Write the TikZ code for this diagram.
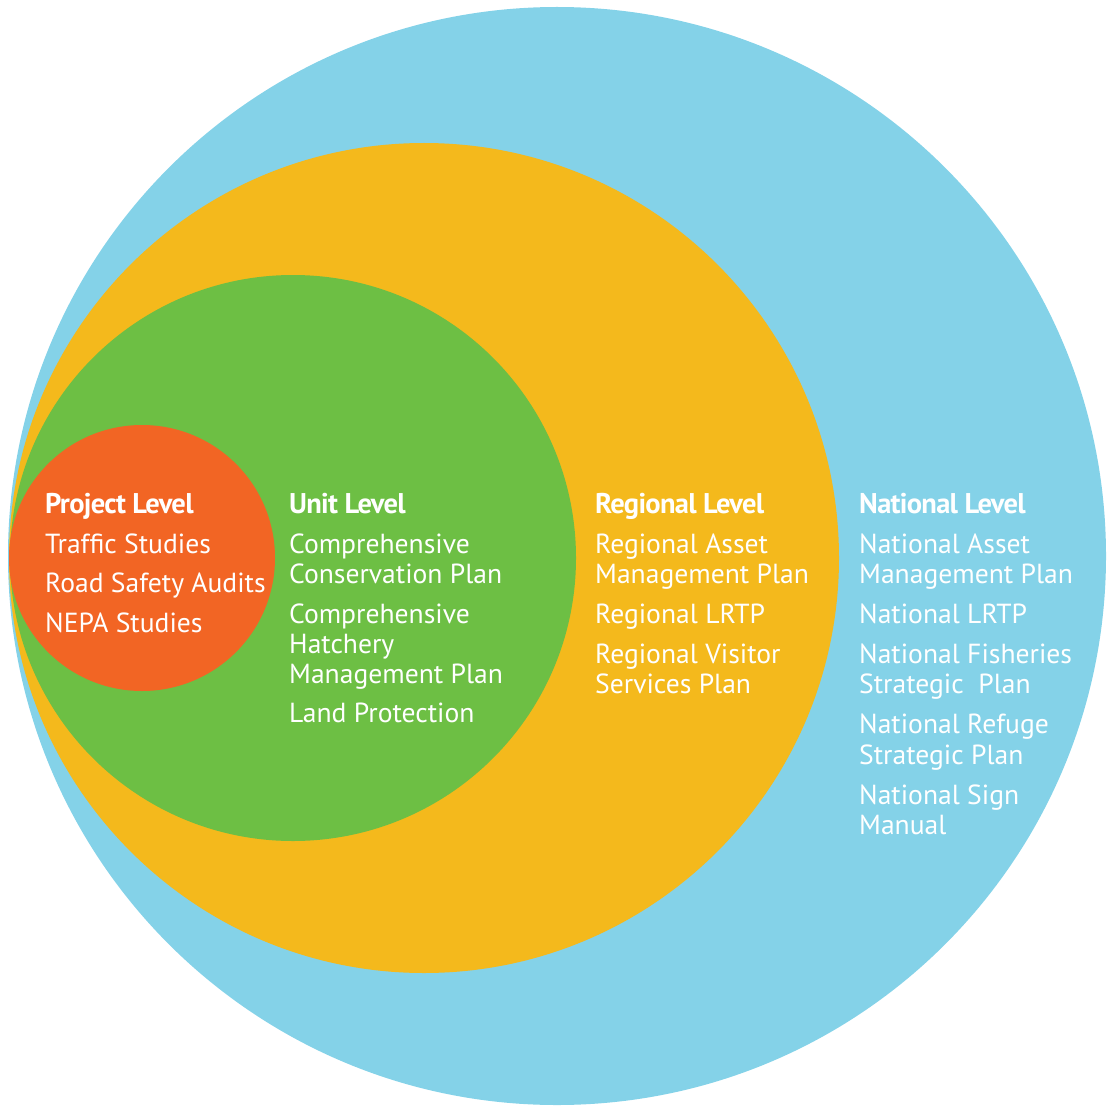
\documentclass[tikz,border=0pt]{standalone}
\usepackage{fontspec}
\usepackage{xcolor}
\setmainfont{PT Sans}
\newfontfamily\titlefont[LetterSpace=-2.5]{PT Sans}

\definecolor{nationalblue}{HTML}{84D2E8}
\definecolor{regionalyellow}{HTML}{F4B91C}
\definecolor{unitgreen}{HTML}{6DBF44}
\definecolor{projectorange}{HTML}{F26524}

\tikzset{
    level title/.style={anchor=base west, inner sep=0pt, text=white,
        font=\titlefont\bfseries\fontsize{28.5}{30}\selectfont},
    plan item/.style={anchor=base west, inner sep=0pt, text=white,
        font=\fontsize{27.6}{30}\selectfont}
}

\begin{document}
\begin{tikzpicture}[x=1pt, y=-1pt]
    \useasboundingbox (0,0) rectangle (1106,1107);

    % nested levels
    \fill[nationalblue] (557,556) circle (549pt);
    \fill[regionalyellow] (424,558) circle (415pt);
    \fill[unitgreen] (293,558) circle (283pt);
    \fill[projectorange] (142,558) circle (133pt);

    % project level
    \node[level title] (project) at (45,513) {Project Level};
    \foreach \y/\t [count=\i] in {553/Traffic Studies, 592/Road Safety Audits,
            632/NEPA Studies}
        \node[plan item] (project-\i) at (45,\y) {\t};

    % unit level
    \node[level title] (unit) at (289,513) {Unit Level};
    \foreach \y/\t [count=\i] in {553/Comprehensive, 583/Conservation Plan,
            623/Comprehensive, 653/Hatchery, 683/Management Plan,
            722/Land Protection}
        \node[plan item] (unit-\i) at (289,\y) {\t};

    % regional level
    \node[level title] (regional) at (595,513) {Regional Level};
    \foreach \y/\t [count=\i] in {553/Regional Asset, 583/Management Plan,
            623/Regional LRTP, 663/Regional Visitor, 693/Services Plan}
        \node[plan item] (regional-\i) at (595,\y) {\t};

    % national level
    \node[level title] (national) at (859,513) {National Level};
    \foreach \y/\t [count=\i] in {553/National Asset, 583/Management Plan,
            623/National LRTP, 663/National Fisheries, 693/Strategic~ Plan,
            733/National Refuge, 764/Strategic Plan, 804/National Sign,
            834/Manual}
        \node[plan item] (national-\i) at (859,\y) {\t};
\end{tikzpicture}
\end{document}
